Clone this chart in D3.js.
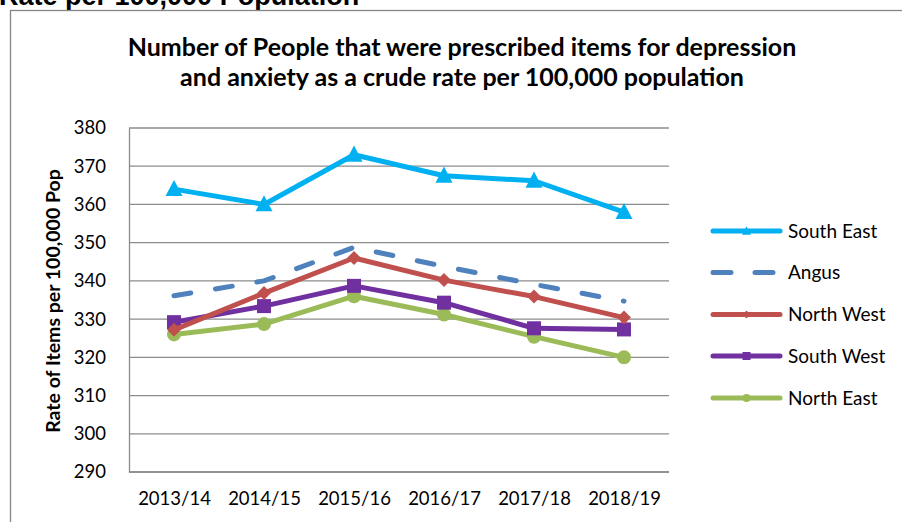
<!DOCTYPE html>
<html>
<head>
<meta charset="utf-8">
<script src="https://cdn.jsdelivr.net/npm/d3@7/dist/d3.min.js"></script>
<style>
  html, body { margin: 0; padding: 0; background: #fff; }
  svg { display: block; }
</style>
</head>
<body>
<script>
const categories = ["2013/14", "2014/15", "2015/16", "2016/17", "2017/18", "2018/19"];
const southEast = [364, 360, 373, 367.5, 366.2, 358];
const angus     = [336.1, 340, 348.8, 343.8, 339.1, 334.7];
const northWest = [327.2, 336.8, 346, 340.2, 335.9, 330.4];
const southWest = [329.2, 333.4, 338.7, 334.3, 327.6, 327.3];
const northEast = [326, 328.7, 336, 331.2, 325.4, 320];
const yTicks = [290, 300, 310, 320, 330, 340, 350, 360, 370, 380];
const seriesNames = ["South East", "Angus", "North West", "South West", "North East"];

const series = [
  { name: seriesNames[0], values: southEast, color: "#00B0F0", marker: "triangle", dashed: false },
  { name: seriesNames[1], values: angus,     color: "#4F81BD", marker: "none",     dashed: true },
  { name: seriesNames[2], values: northWest, color: "#C0504D", marker: "diamond",  dashed: false },
  { name: seriesNames[3], values: southWest, color: "#7030A0", marker: "square",   dashed: false },
  { name: seriesNames[4], values: northEast, color: "#9BBB59", marker: "circle",   dashed: false }
];

const W = 902, H = 522;
const FONT = "Lato, 'Open Sans', sans-serif";
const svg = d3.select("body").append("svg").attr("width", W).attr("height", H);

// clipped heading above chart (cut off at the top, as in the reference)
svg.append("text")
  .attr("x", -1).attr("y", 5)
  .attr("font-family", "'Liberation Sans', Arial, sans-serif")
  .attr("font-weight", "bold").attr("font-size", 27)
  .attr("fill", "#000")
  .text("Rate per 100,000 Population");

// chart border (left + top visible)
svg.append("rect")
  .attr("x", 10.5).attr("y", 10.5).attr("width", 1000).attr("height", 1000)
  .attr("fill", "#fff").attr("stroke", "#868686").attr("stroke-width", 1.3);

// title
const title = svg.append("text")
  .attr("text-anchor", "middle")
  .attr("font-family", FONT).attr("font-weight", "bold").attr("font-size", 25)
  .attr("fill", "#000");
title.append("tspan").attr("x", 462).attr("y", 56).text("Number of People that were prescribed items for depression");
title.append("tspan").attr("x", 462).attr("y", 86).text("and anxiety as a crude rate per 100,000 population");

const plot = { left: 129, right: 669, top: 128, bottom: 472 };

const x = d3.scalePoint().domain(categories).range([plot.left, plot.right]).padding(0.5);
const y = d3.scaleLinear().domain([290, 380]).range([plot.bottom, plot.top]);

// gridlines
svg.append("g")
  .selectAll("line").data(yTicks).join("line")
  .attr("x1", plot.left).attr("x2", plot.right)
  .attr("y1", d => y(d)).attr("y2", d => y(d))
  .attr("stroke", "#8c8c8c").attr("stroke-width", 1.3);

// y axis
const yAxis = svg.append("g")
  .attr("transform", `translate(${plot.left},0)`)
  .call(d3.axisLeft(y).tickValues(yTicks).tickSize(0).tickPadding(23).tickFormat(d3.format("d")));
yAxis.select(".domain").attr("stroke", "#8c8c8c").attr("stroke-width", 1.3);
yAxis.selectAll("text").attr("font-family", FONT).attr("font-size", 18.5).attr("fill", "#000");

// x axis
const xAxis = svg.append("g")
  .attr("transform", `translate(0,${plot.bottom})`)
  .call(d3.axisBottom(x).tickSize(0).tickPadding(20));
xAxis.select(".domain").remove();
xAxis.selectAll("text").attr("font-family", FONT).attr("font-size", 18.5).attr("fill", "#000");
svg.append("line")
  .attr("x1", plot.left).attr("x2", plot.right)
  .attr("y1", plot.bottom).attr("y2", plot.bottom)
  .attr("stroke", "#8c8c8c").attr("stroke-width", 1.3);

// y axis title
svg.append("text")
  .attr("transform", `translate(60,${(plot.top + plot.bottom) / 2 + 1}) rotate(-90)`)
  .attr("text-anchor", "middle")
  .attr("font-family", FONT).attr("font-weight", "bold").attr("font-size", 19.5)
  .attr("fill", "#000")
  .text("Rate of Items per 100,000 Pop");

const line = d3.line().x((d, i) => x(categories[i])).y(d => y(d));

function drawMarker(g, type, cx, cy, s, color) {
  if (type === "triangle") {
    const h = s * 0.9;
    g.append("path")
      .attr("d", `M${cx},${cy - h * 0.6} L${cx + s / 2},${cy + h * 0.45} L${cx - s / 2},${cy + h * 0.45} Z`)
      .attr("fill", color);
  } else if (type === "diamond") {
    g.append("path")
      .attr("d", `M${cx},${cy - s / 2} L${cx + s / 2},${cy} L${cx},${cy + s / 2} L${cx - s / 2},${cy} Z`)
      .attr("fill", color);
  } else if (type === "square") {
    g.append("rect").attr("x", cx - s / 2).attr("y", cy - s / 2).attr("width", s).attr("height", s).attr("fill", color);
  } else if (type === "circle") {
    g.append("circle").attr("cx", cx).attr("cy", cy).attr("r", s / 2).attr("fill", color);
  }
}

const markerSize = { triangle: 17, diamond: 14, square: 14, circle: 14 };

// draw series (back to front: North East first so South East on top)
const order = [4, 3, 2, 1, 0];
order.forEach(idx => {
  const s = series[idx];
  const g = svg.append("g");
  g.append("path")
    .attr("d", line(s.values))
    .attr("fill", "none").attr("stroke", s.color).attr("stroke-width", 5)
    .attr("stroke-linejoin", "round")
    .attr("stroke-linecap", "round")
    .attr("stroke-dasharray", s.dashed ? "17,25" : null);
  s.values.forEach((v, i) => {
    if (s.marker !== "none") drawMarker(g, s.marker, x(categories[i]), y(v), markerSize[s.marker], s.color);
  });
});

// legend
const legendY = [231, 272.5, 314.5, 356, 398];
const legendMarker = { triangle: 9, diamond: 8, square: 8, circle: 8 };
series.forEach((s, i) => {
  const g = svg.append("g");
  const ly = legendY[i];
  g.append("line")
    .attr("x1", 713).attr("x2", 780).attr("y1", ly).attr("y2", ly)
    .attr("stroke", s.color).attr("stroke-width", 5).attr("stroke-linecap", "round")
    .attr("stroke-dasharray", s.dashed ? "18,24" : null);
  if (s.marker !== "none") drawMarker(g, s.marker, 746.5, ly, legendMarker[s.marker], s.color);
  g.append("text")
    .attr("x", 788).attr("y", ly).attr("dy", "0.35em")
    .attr("font-family", FONT).attr("font-size", 19)
    .attr("fill", "#000")
    .text(s.name);
});
</script>
</body>
</html>
